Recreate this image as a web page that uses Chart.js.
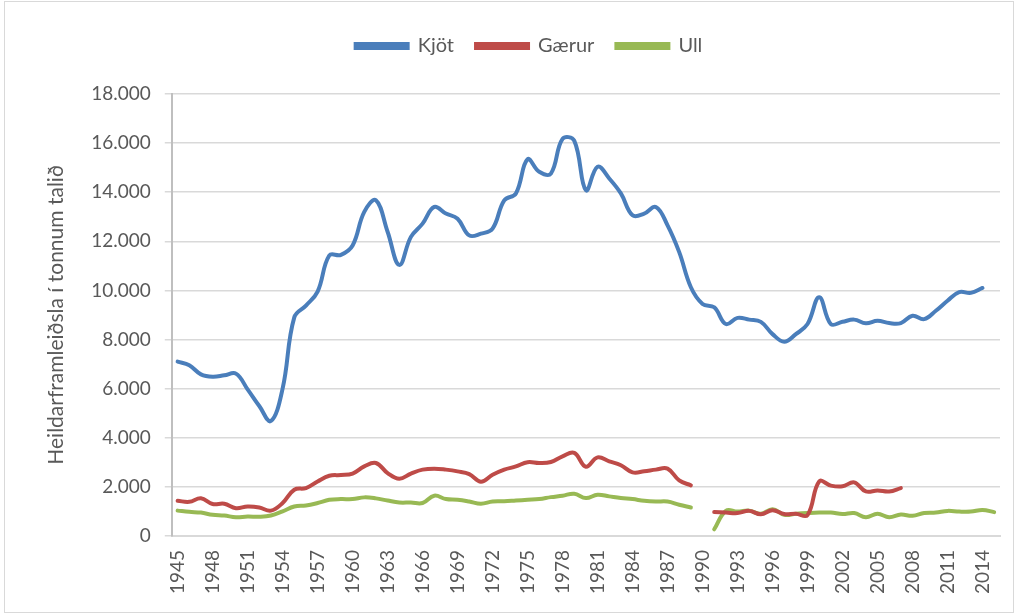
<!DOCTYPE html>
<html>
<head>
<meta charset="utf-8">
<script src="https://cdn.jsdelivr.net/npm/chart.js@4.4.1/dist/chart.umd.min.js"></script>
<style>
  html, body { margin: 0; padding: 0; background: #fff; }
  #wrap { position: relative; width: 1018px; height: 614px; }
  #frame { position: absolute; left: 4px; top: 1px; width: 1008px; height: 610px; border: 1px solid #d9d9d9; pointer-events: none; }
</style>
</head>
<body>
<div id="wrap">
  <canvas id="chart" width="1018" height="614"></canvas>
  <div id="frame"></div>
</div>
<script>
// years 1945-2015
const years = []
for (let y = 1945; y <= 2015; y++) years.push(String(y))

// Kjöt (meat), tonnes
const kjot = [
  7100, 6950, 6580, 6480, 6540, 6610, 5970, 5290, 4680, 6000,
  8900, 9380, 9950, 11420, 11450, 11830, 13200, 13670, 12390, 11040,
  12180, 12720, 13400, 13130, 12920, 12240, 12310, 12520, 13670, 13950,
  15340, 14830, 14760, 16170, 16100, 14080, 15040, 14560, 13950, 13060,
  13130, 13400, 12650, 11560, 10130, 9450, 9310, 8630, 8880, 8810,
  8720, 8220, 7910, 8220, 8630, 9720, 8630, 8720, 8810, 8660,
  8760, 8670, 8670, 8970, 8830, 9170, 9580, 9930, 9900, 10100,
  null
]

// Gærur (skins)
const gaerur = [
  1430, 1390, 1530, 1300, 1310, 1130, 1200, 1160, 1030, 1340,
  1880, 1950, 2220, 2450, 2480, 2540, 2830, 2970, 2560, 2330,
  2540, 2700, 2740, 2700, 2630, 2520, 2210, 2490, 2700, 2830,
  3000, 2970, 3010, 3240, 3380, 2820, 3200, 3040, 2880, 2590,
  2630, 2700, 2740, 2260, 2060, null, 970, 950, 930, 1020,
  880, 1050, 890, 900, 850, 2220, 2050, 2020, 2180, 1810,
  1850, 1810, 1950, null, null, null, null, null, null, null,
  null
]

// Ull (wool)
const ull = [
  1030, 980, 950, 860, 830, 760, 790, 780, 830, 1000,
  1200, 1240, 1340, 1470, 1500, 1500, 1570, 1530, 1440, 1360,
  1360, 1340, 1640, 1500, 1470, 1400, 1310, 1400, 1410, 1440,
  1470, 1500, 1580, 1640, 1720, 1540, 1680, 1610, 1540, 1500,
  1430, 1400, 1400, 1270, 1160, null, 270, 1020, 990, 1030,
  900, 1090, 860, 900, 930, 950, 950, 890, 930, 760,
  900, 760, 870, 820, 930, 950, 1020, 990, 990, 1060,
  970
]

const yTicks = [0, 2000, 4000, 6000, 8000, 10000, 12000, 14000, 16000, 18000]

const TEXT = "#595959"
const FONT = "Lato, 'Noto Sans', sans-serif"

const series = (label, data, color) => ({
  label, data,
  borderColor: color,
  backgroundColor: color,
  borderWidth: 4,
  pointRadius: 0,
  tension: 0.4,
  spanGaps: false,
  borderCapStyle: "round"
})

// extra room under the legend
const legendGap = {
  id: "legendGap",
  beforeInit(chart) {
    const fit = chart.legend.fit
    chart.legend.fit = function () {
      fit.call(this)
      this.height += 28
    }
  }
}

new Chart(document.getElementById("chart").getContext("2d"), {
  type: "line",
  data: {
    labels: years,
    datasets: [
      series("Kjöt", kjot, "#4A7EBB"),
      series("Gærur", gaerur, "#BE4B48"),
      series("Ull", ull, "#98B954")
    ]
  },
  plugins: [legendGap],
  options: {
    responsive: false,
    animation: false,
    layout: { padding: { left: 40, right: 0, top: 14, bottom: 6 } },
    plugins: {
      tooltip: { enabled: false },
      legend: {
        position: "top",
        labels: {
          color: TEXT,
          boxWidth: 52,
          boxHeight: 4,
          padding: 22,
          font: { family: FONT, size: 20 }
        }
      }
    },
    scales: {
      x: {
        offset: true,
        grid: { display: false, drawTicks: false },
        border: { display: true, color: "#d9d9d9", width: 2 },
        afterFit: (scale) => { scale.paddingRight = 18 },
        ticks: {
          autoSkip: false,
          maxRotation: 90,
          minRotation: 90,
          padding: 14,
          color: TEXT,
          font: { family: FONT, size: 19 },
          callback: function (v, i) { return i % 3 === 0 ? this.getLabelForValue(v) : "" }
        }
      },
      y: {
        min: 0,
        max: 18000,
        afterBuildTicks: (axis) => { axis.ticks = yTicks.map(v => ({ value: v })) },
        grid: { color: "#d9d9d9", lineWidth: 1.5, tickLength: 7 },
        border: { display: true, color: "#bfbfbf", width: 2 },
        ticks: {
          padding: 14,
          color: TEXT,
          font: { family: FONT, size: 19 },
          callback: v => v.toLocaleString("de-DE")
        },
        title: {
          display: true,
          text: "Heildarframleiðsla í tonnum talið",
          color: TEXT,
          padding: { bottom: 8 },
          font: { family: FONT, size: 21 }
        }
      }
    }
  }
})
</script>
</body>
</html>
